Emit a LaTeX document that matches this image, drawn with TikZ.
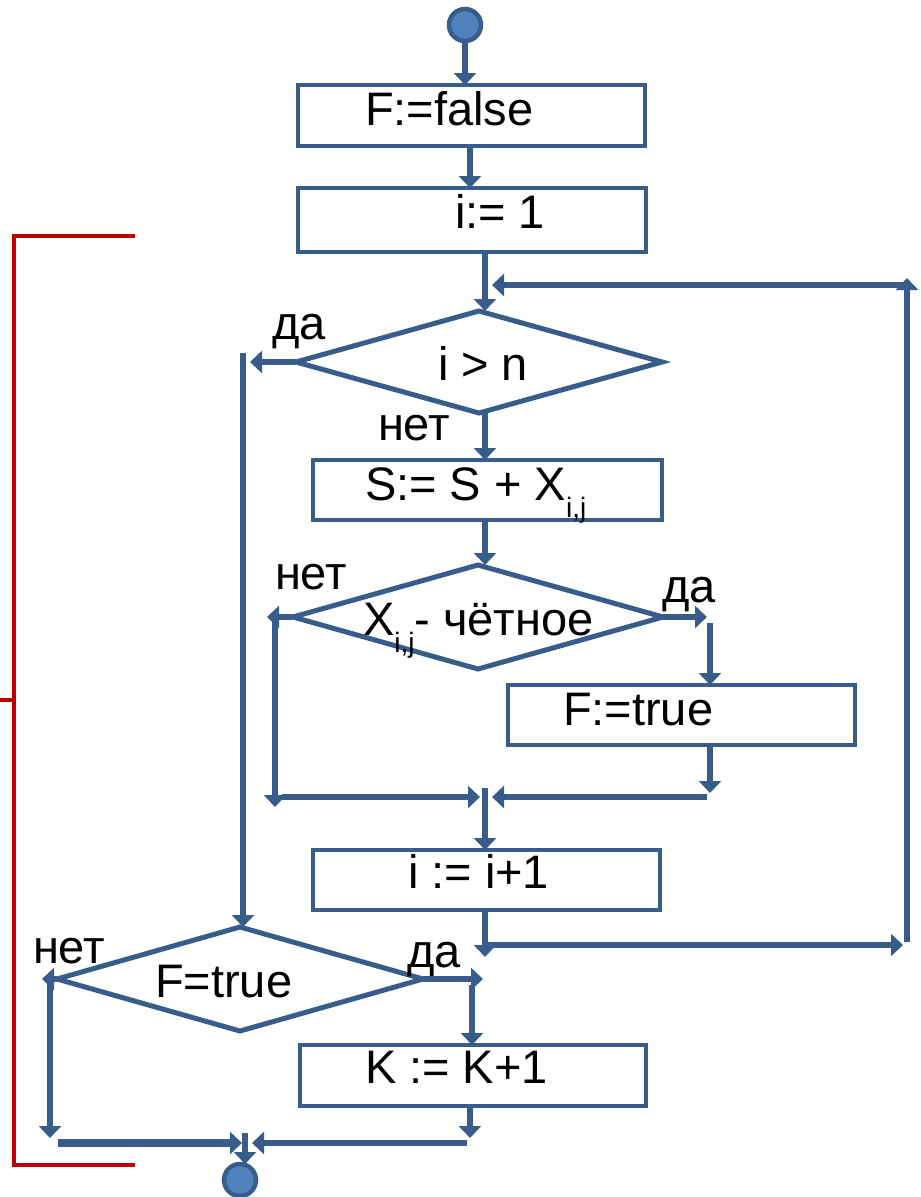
\documentclass[tikz,border=0pt]{standalone}
\usepackage{fontspec}
\setmainfont{Liberation Sans}
\usetikzlibrary{arrows.meta,shapes.geometric}
\definecolor{lineblue}{HTML}{385D8A}
\definecolor{fillblue}{HTML}{4F81BD}
\definecolor{redline}{HTML}{C00000}
\newcommand\subij{\raisebox{-17pt}{\fontsize{28}{28}\selectfont i,j}}
\begin{document}
\begin{tikzpicture}[x=1pt,y=-1pt,
  conn/.style={draw=lineblue,line width=6pt,-{Triangle[width=22pt,length=12pt]}},
  box/.style={draw=lineblue,line width=4.5pt,rectangle,inner sep=0pt,outer sep=0pt},
  dia/.style={draw=lineblue,line width=5pt,diamond,inner sep=0pt,outer sep=0pt},
  term/.style={circle,draw=lineblue,fill=fillblue,line width=4.5pt,minimum size=32pt,inner sep=0pt,outer sep=0pt},
  txt/.style={anchor=base west,inner sep=0pt,outer sep=0pt,font=\fontsize{47}{56}\selectfont},
  bracket/.style={draw=redline,line width=4pt}]
\useasboundingbox (0,0) rectangle (921,1197);

% shapes
\node[term] (start) at (465,25) {};
\node[box,minimum width=347pt,minimum height=61pt] (b1) at (471.5,115.5) {};
\node[box,minimum width=348pt,minimum height=64pt] (b2) at (472,220) {};
\node[dia,minimum width=366pt,minimum height=102pt] (d1) at (479,362) {};
\node[box,minimum width=349pt,minimum height=60pt] (b3) at (487.5,490) {};
\node[dia,minimum width=370pt,minimum height=104pt] (d2) at (478,617) {};
\node[box,minimum width=347pt,minimum height=60pt] (b4) at (681.5,715) {};
\node[box,minimum width=347pt,minimum height=60pt] (b5) at (486.5,880) {};
\node[dia,minimum width=366pt,minimum height=104pt] (d3) at (240,979) {};
\node[box,minimum width=346pt,minimum height=61pt] (b6) at (473,1075.5) {};
\node[term] (end) at (240,1180) {};

% texts
\node[txt] (t1) at (365,125) {F:=false};
\node[txt] (t2) at (455,228) {i:= 1};
\node[txt] (t3) at (438,380) {i > n};
\node[txt] (l1y) at (272,339) {да};
\node[txt] (l1n) at (378,440) {нет};
\node[txt] (t4) at (365,500) {S:= S + X\subij};
\node[txt] (t5) at (363,635) {X\subij- чётное};
\node[txt] (l2n) at (275,589) {нет};
\node[txt] (l2y) at (662,602) {да};
\node[txt] (t6) at (563,725) {F:=true};
\node[txt] (t7) at (408,888) {i := i+1};
\node[txt] (t8) at (155,997) {F=true};
\node[txt] (l3n) at (33,963) {нет};
\node[txt] (l3y) at (407,967) {да};
\node[txt] (t9) at (365,1083) {K := K+1};

% coordinates
\coordinate (cA) at (470,0);
\coordinate (cM) at (485,0);
\coordinate (dn1) at (485,957);
\coordinate (lpA) at (485,945);
\coordinate (lpB) at (903,945);
\coordinate (lpC) at (907,942);
\coordinate (lpD) at (907,278);
\coordinate (lpE) at (907,285);
\coordinate (lpF) at (492,285);
\coordinate (ya) at (250,362);
\coordinate (yb) at (243,353);
\coordinate (na) at (267,617);
\coordinate (nb) at (275,617);
\coordinate (nc) at (275,807);
\coordinate (ta) at (707,617);
\coordinate (tb) at (710,623);
\coordinate (tc) at (710,793);
\coordinate (td) at (707,797);
\coordinate (te) at (492,797);
\coordinate (nd) at (282,797);
\coordinate (ne) at (480,797);
\coordinate (jf) at (485,788);
\coordinate (fa) at (42,979);
\coordinate (fb2) at (50,979);
\coordinate (fc) at (50,1138);
\coordinate (ka) at (483,979);
\coordinate (kb) at (472,985);
\coordinate (kc) at (470,0);
\coordinate (kd) at (470,1138);
\coordinate (ke) at (467,1143);
\coordinate (kf) at (252,1143);
\coordinate (fd) at (58,1143);
\coordinate (fe) at (242,1143);
\coordinate (ea) at (245,1133);

% connectors
\draw[conn] (start) -- (start |- b1.north);
\draw[conn] (b1.south -| cA) -- (b2.north -| cA);
\draw[conn] (b2.south -| cM) -- (d1.north -| cM);
\draw[conn] (lpE) -- (lpF);
\draw[conn] (d1.west) -- (ya);
\draw[conn] (yb) -- (yb |- d3.north);
\draw[conn] (d1.south -| cM) -- (b3.north -| cM);
\draw[conn] (b3.south -| cM) -- (d2.north -| cM);
\draw[conn] (d2.west) -- (na);
\draw[conn] (nb) -- (nc);
\draw[conn] (d2.east) -- (ta);
\draw[conn] (tb) -- (b4.north -| tb);
\draw[conn] (b4.south -| tb) -- (tc);
\draw[conn] (td) -- (te);
\draw[conn] (nd) -- (ne);
\draw[conn] (jf) -- (b5.north -| jf);
\draw[conn] (b5.south -| cM) -- (dn1);
\draw[conn] (lpA) -- (lpB);
\draw[conn] (lpC) -- (lpD);
\draw[conn] (d3.west) -- (fa);
\draw[conn] (fb2) -- (fc);
\draw[conn] (d3.east) -- (ka);
\draw[conn] (kb) -- (b6.north -| kb);
\draw[conn] (b6.south -| kc) -- (kd);
\draw[conn] (ke) -- (kf);
\draw[conn,line width=7.5pt] (fd) -- (fe);
\draw[conn] (ea) -- (ea |- end.north);

% red bracket
\draw[bracket] (135,236) -- (14,236) -- (14,1165) -- (135,1165);
\draw[bracket] (0,700) -- (14,700);
\end{tikzpicture}
\end{document}
